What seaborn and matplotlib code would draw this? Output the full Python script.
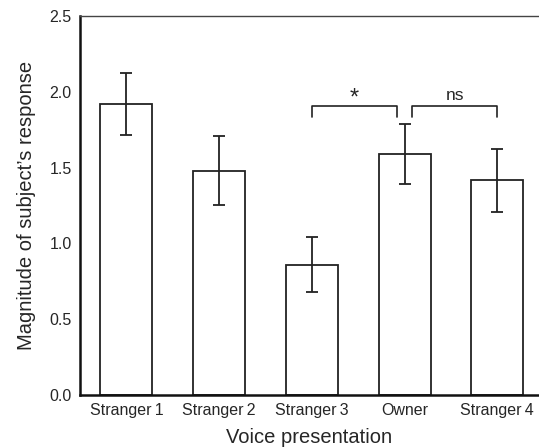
import matplotlib
matplotlib.use("Agg")
import matplotlib.pyplot as plt
import seaborn as sns
import pandas as pd

conditions = ["Stranger\u20091", "Stranger\u20092", "Stranger\u20093", "Owner", "Stranger\u20094"]
means = [1.92, 1.48, 0.86, 1.59, 1.42]
err_upper = [2.125, 1.71, 1.04, 1.785, 1.62]
err_lower = [1.715, 1.25, 0.68, 1.39, 1.205]

df = pd.DataFrame({"Voice presentation": conditions, "response": means})

sns.set_style("white")
plt.rcParams["font.family"] = ["Liberation Sans", "DejaVu Sans"]

fig = plt.figure(figsize=(5.39, 4.48), dpi=100)
ax = fig.add_axes([0.1484, 0.1183, 0.8516, 0.846])

sns.barplot(data=df, x="Voice presentation", y="response", color="white",
            edgecolor="#222222", linewidth=1.3, width=0.56, ax=ax)

yerr = [[m - lo for m, lo in zip(means, err_lower)],
        [hi - m for m, hi in zip(means, err_upper)]]
ax.errorbar(range(len(means)), means, yerr=yerr, fmt="none", ecolor="#222222",
            elinewidth=1.3, capsize=4, capthick=1.3)

# significance brackets
def bracket(x0, x1, y, h, text, size, dy):
    ax.plot([x0, x0, x1, x1], [y - h, y, y, y - h], color="#222222", lw=1.2)
    ax.text((x0 + x1) / 2, y + dy, text, ha="center", va="bottom", fontsize=size)

bracket(2, 2.92, 1.905, 0.07, "*", 17, -0.02)
bracket(3.08, 4, 1.905, 0.07, "ns", 12.5, 0.02)

ax.set_ylim(0, 2.5)
ax.set_xlim(-0.5, 4.45)
ax.set_yticks([0.0, 0.5, 1.0, 1.5, 2.0, 2.5])
ax.set_yticklabels(["0.0", "0.5", "1.0", "1.5", "2.0", "2.5"])
ax.tick_params(axis="both", length=0, labelsize=11.5, pad=6)
ax.set_xlabel("Voice presentation", fontsize=14.5, labelpad=7)
ax.set_ylabel("Magnitude of subject\u2019s response", fontsize=14.5, labelpad=10)

for side in ["left", "bottom"]:
    ax.spines[side].set_linewidth(1.8)
    ax.spines[side].set_color("#111111")
ax.spines["top"].set_linewidth(1.0)
ax.spines["top"].set_color("#444444")
ax.spines["right"].set_visible(False)

fig.savefig("out.png", dpi=100)
